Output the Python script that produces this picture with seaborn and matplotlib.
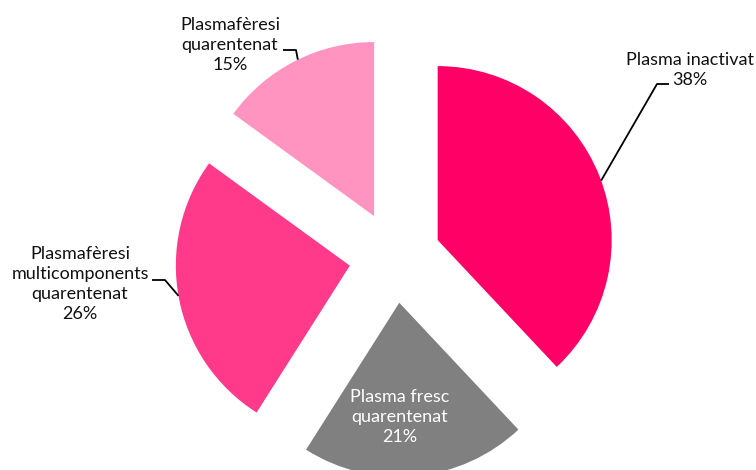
import numpy as np
import matplotlib
matplotlib.use("Agg")
import matplotlib.pyplot as plt
import seaborn as sns

# data
labels = ["Plasma inactivat",
          "Plasma fresc\nquarentenat",
          "Plasmafèresi\nmulticomponents\nquarentenat",
          "Plasmafèresi\nquarentenat"]
shares = [38, 21, 26, 15]
colors = ["#FF0066", "#808080", "#FF3A8A", "#FF94C0"]

sns.set_theme(style="white")
plt.rcParams["font.family"] = ["Lato", "DejaVu Sans"]

W, H = 756, 470
fig = plt.figure(figsize=(W / 100, H / 100), dpi=100)
ax = fig.add_axes([0, 0, 1, 1])

wedges, _ = ax.pie(shares, colors=colors, startangle=90, counterclock=False,
                   explode=[0.264] * len(shares), radius=1,
                   wedgeprops=dict(linewidth=0))
ax.set_aspect("auto")
ax.set_xlim(-2.270, 2.075)
ax.set_ylim(-1.224, 1.477)
ax.axis("off")


def to_data(x, y):
    # pixel position from the top-left corner -> data coords
    return ax.transData.inverted().transform((x, H - y))


# label placement: (text centre, attach angle, elbow, end) in pixels
layout = [
    ((690, 70), 20, (657, 84), (669, 84)),
    ((400, 417), None, None, None),
    ((80, 284), 190, (165, 280), (152, 280)),
    ((230, 45), 116, (296, 50), (283, 50)),
]

for w, lab, val, (txt, ang, elbow, end) in zip(wedges, labels, shares, layout):
    tx, ty = to_data(*txt)
    inside = ang is None
    ax.text(tx, ty, f"{lab}\n{val}%", ha="center", va="center",
            fontsize=13, color="white" if inside else "#111111",
            linespacing=1.32)
    if inside:
        continue
    cx, cy = w.center
    a = np.deg2rad(ang)
    p0 = (cx + w.r * np.cos(a), cy + w.r * np.sin(a))
    p1 = to_data(*elbow)
    p2 = to_data(*end)
    ax.plot([p0[0], p1[0], p2[0]], [p0[1], p1[1], p2[1]],
            color="black", lw=1.3, solid_capstyle="butt", clip_on=False)

fig.savefig("out.png", dpi=100)
